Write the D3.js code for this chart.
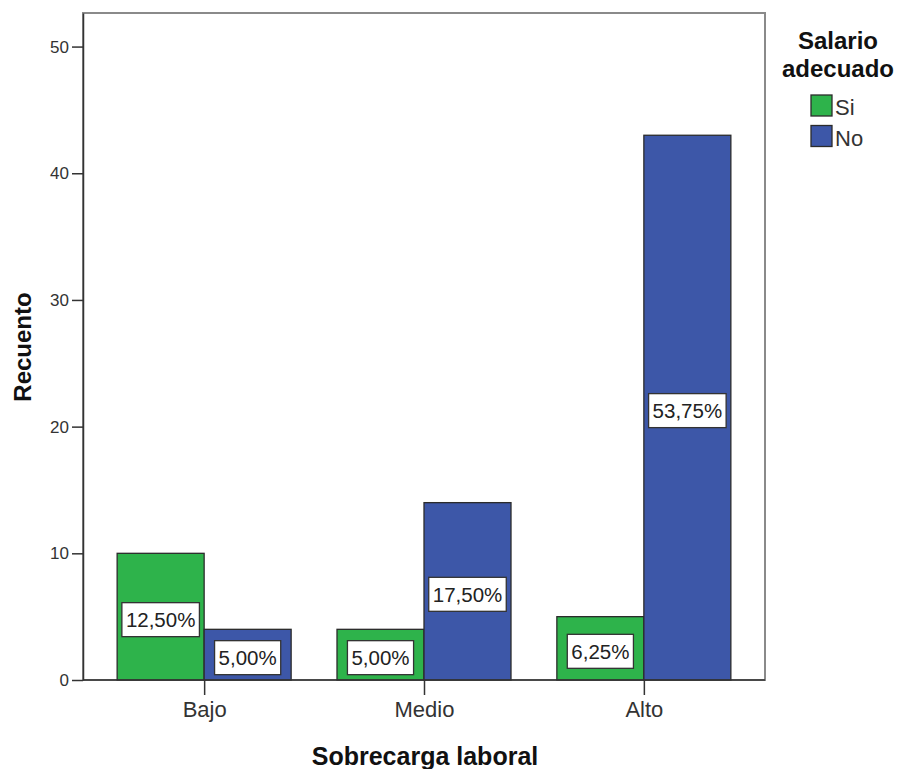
<!DOCTYPE html>
<html>
<head>
<meta charset="utf-8">
<script src="https://cdn.jsdelivr.net/npm/d3@7"></script>
<style>
  html, body { margin: 0; padding: 0; background: #fff; }
  svg { display: block; font-family: "Liberation Sans", Arial, sans-serif; }
</style>
</head>
<body>
<svg id="chart" width="906" height="769"></svg>
<script>
// Recuento por nivel de sobrecarga laboral y salario adecuado
const categories = ["Bajo", "Medio", "Alto"];
const series = ["Si", "No"];
const valuesSi = [10, 4, 5];
const valuesNo = [4, 14, 43];
const yTicks = [0, 10, 20, 30, 40, 50];
const colors = { Si: "#2eb34b", No: "#3d57a8" };

const rows = categories.map((c, i) => ({ cat: c, Si: valuesSi[i], No: valuesNo[i] }));
const total = d3.sum(valuesSi) + d3.sum(valuesNo);
const fmtPct = v => (v / total * 100).toFixed(2).replace(".", ",") + "%";

const svg = d3.select("#chart");
const plot = { left: 83, right: 765, top: 13, bottom: 680 };

const x = d3.scalePoint().domain(categories).range([plot.left, plot.right]).padding(0.551);
const barW = 87;
const xs = d3.scaleBand().domain(series).range([-barW, barW]);
const y = d3.scaleLinear().domain([0, 52.65]).range([plot.bottom, plot.top]);

// frame
svg.append("rect")
  .attr("x", plot.left).attr("y", plot.top)
  .attr("width", plot.right - plot.left).attr("height", plot.bottom - plot.top)
  .attr("fill", "none").attr("stroke", "#8a8a8a").attr("stroke-width", 2);

// bars
const groups = svg.append("g").selectAll("g").data(rows).join("g")
  .attr("transform", d => `translate(${x(d.cat)},0)`);

groups.selectAll("rect").data(d => series.map(s => ({ s, v: d[s] }))).join("rect")
  .attr("x", d => xs(d.s))
  .attr("width", xs.bandwidth())
  .attr("y", d => y(d.v))
  .attr("height", d => y(0) - y(d.v))
  .attr("fill", d => colors[d.s])
  .attr("stroke", "#2b2b2b").attr("stroke-width", 1.3);

// value labels
const labels = groups.selectAll("g.lbl").data(d => series.map(s => ({ s, v: d[s] }))).join("g")
  .attr("class", "lbl")
  .attr("transform", d => `translate(${xs(d.s) + xs.bandwidth() / 2},${y(d.v / 2) + 3})`);

labels.append("text")
  .attr("text-anchor", "middle")
  .attr("dy", "0.36em")
  .attr("font-size", 20.5)
  .attr("fill", "#222")
  .text(d => fmtPct(d.v));

labels.each(function () {
  const g = d3.select(this);
  const bb = g.select("text").node().getBBox();
  g.insert("rect", "text")
    .attr("x", bb.x - 4).attr("y", -17)
    .attr("width", bb.width + 8).attr("height", 34)
    .attr("fill", "#fff").attr("stroke", "#333").attr("stroke-width", 1.3);
});

// y axis
const yAxis = svg.append("g")
  .attr("transform", `translate(${plot.left},0)`)
  .call(d3.axisLeft(y).tickValues(yTicks).tickSize(11).tickSizeOuter(0).tickPadding(3));
yAxis.select(".domain").attr("stroke", "#333").attr("stroke-width", 1.5);
yAxis.selectAll(".tick line").attr("stroke", "#333").attr("stroke-width", 1.5);
yAxis.selectAll(".tick text").attr("font-size", 17).attr("fill", "#333")
  .attr("font-family", "Liberation Sans, Arial, sans-serif");

// x axis
const xAxis = svg.append("g")
  .attr("transform", `translate(0,${plot.bottom})`)
  .call(d3.axisBottom(x).tickSize(15).tickPadding(6).tickSizeOuter(0));
xAxis.select(".domain").attr("stroke", "#333").attr("stroke-width", 1.5)
  .attr("d", `M${plot.left},0H${plot.right}`);
xAxis.selectAll(".tick line").attr("stroke", "#333").attr("stroke-width", 1.5);
xAxis.selectAll(".tick text").attr("font-size", 22).attr("fill", "#333")
  .attr("font-family", "Liberation Sans, Arial, sans-serif");

// axis titles
svg.append("text")
  .attr("x", (plot.left + plot.right) / 2 + 1).attr("y", 765)
  .attr("text-anchor", "middle").attr("font-size", 25).attr("font-weight", "bold").attr("fill", "#111")
  .text("Sobrecarga laboral");

svg.append("text")
  .attr("transform", `translate(31,347) rotate(-90)`)
  .attr("text-anchor", "middle").attr("font-size", 24).attr("font-weight", "bold").attr("fill", "#111")
  .text("Recuento");

// legend
const lg = svg.append("g");
lg.append("text").attr("x", 838).attr("y", 49).attr("text-anchor", "middle")
  .attr("font-size", 24).attr("font-weight", "bold").attr("fill", "#111").text("Salario");
lg.append("text").attr("x", 838).attr("y", 77).attr("text-anchor", "middle")
  .attr("font-size", 24).attr("font-weight", "bold").attr("fill", "#111").text("adecuado");

const items = lg.selectAll("g.item").data(series).join("g")
  .attr("class", "item")
  .attr("transform", (d, i) => `translate(811,${95 + i * 30.5})`);
items.append("rect").attr("width", 21).attr("height", 21)
  .attr("fill", d => colors[d]).attr("stroke", "#2b2b2b").attr("stroke-width", 1.3);
items.append("text").attr("x", 24).attr("y", 20)
  .attr("font-size", 22).attr("fill", "#333").text(d => d);
</script>
</body>
</html>
